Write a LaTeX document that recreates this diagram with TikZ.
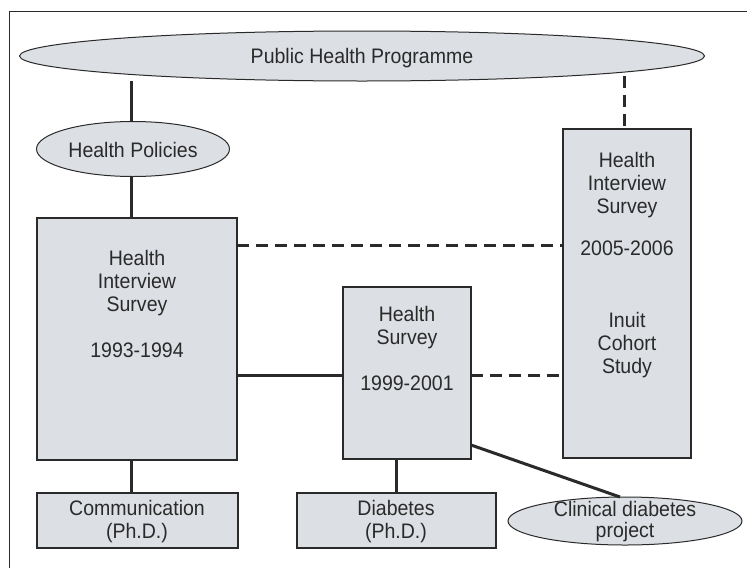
\documentclass[tikz,border=0pt]{standalone}
\usepackage{fontspec}
\setmainfont{Liberation Sans}[FakeStretch=0.93]
\usetikzlibrary{shapes.geometric,positioning,calc}
\definecolor{boxfill}{HTML}{DCDFE4}
\definecolor{edge}{HTML}{2A2A2A}

\begin{document}
\begin{tikzpicture}[x=1pt,y=-1pt,
  box/.style={draw=edge,line width=1.3pt,fill=boxfill,inner sep=0pt},
  oval/.style={ellipse,draw=edge,line width=1pt,fill=boxfill,inner sep=0pt},
  txt/.style={align=center,text=edge,font=\fontsize{21}{23}\selectfont,inner sep=0pt},
  link/.style={edge,line width=3pt},
  dlink/.style={link,dash pattern=on 12pt off 7pt}]
  \useasboundingbox (0,0) rectangle (747,568);
  % frame
  \draw[edge,line width=1pt](9,568)--(9,11)--(747,11);
  % ellipses
  \node[oval,minimum width=685,minimum height=50] (php) at (362,56) {};
  \node[txt] (phpt) at (362,58) {Public Health Programme};
  \node[oval,minimum width=193,minimum height=55] (pol) at (133,149) {};
  \node[txt] (polt) at (133,150) {Health Policies};
  \node[oval,minimum width=234,minimum height=48] (cdp) at (625,521) {};
  \node[txt] (cdpt) at (625,522) {Clinical diabetes\\[-2pt]project};
  % boxes
  \draw[box] (37,218) rectangle (237,460) node[pos=.5] (his93) {};
  \draw[box] (343,287) rectangle (471,459) node[pos=.5] (hs99) {};
  \draw[box] (563,129) rectangle (691,458) node[pos=.5] (his05) {};
  \draw[box] (37,493) rectangle (238,548) node[pos=.5] (comm) {};
  \draw[box] (297,493) rectangle (496,548) node[pos=.5] (diab) {};
  \node[txt] (his93t) at (137,304) {Health\\Interview\\Survey\\[23pt]1993-1994};
  \node[txt] (hs99t) at (407,348) {Health\\Survey\\[23pt]1999-2001};
  \node[txt] (his05t) at (627,265) {Health\\Interview\\Survey\\[19pt]2005-2006\\[49pt]Inuit\\Cohort\\Study};
  \node[txt] (commt) at (137,522) {Communication\\(Ph.D.)};
  \node[txt] (diabt) at (396,522) {Diabetes\\(Ph.D.)};
  % connectors
  \draw[link] (131,81) -- (131,122);
  \draw[link] (131,177) -- (131,218);
  \draw[link] (131,460) -- (131,493);
  \draw[link] (396,459) -- (396,493);
  \draw[link] (237,375) -- (343,375);
  \draw[link] (471,445) -- (620,497);
  \draw[dlink] (624,76) -- (624,129);
  \draw[dlink] (237,245) -- (563,245);
  \draw[dlink] (471,375) -- (563,375);
\end{tikzpicture}
\end{document}
